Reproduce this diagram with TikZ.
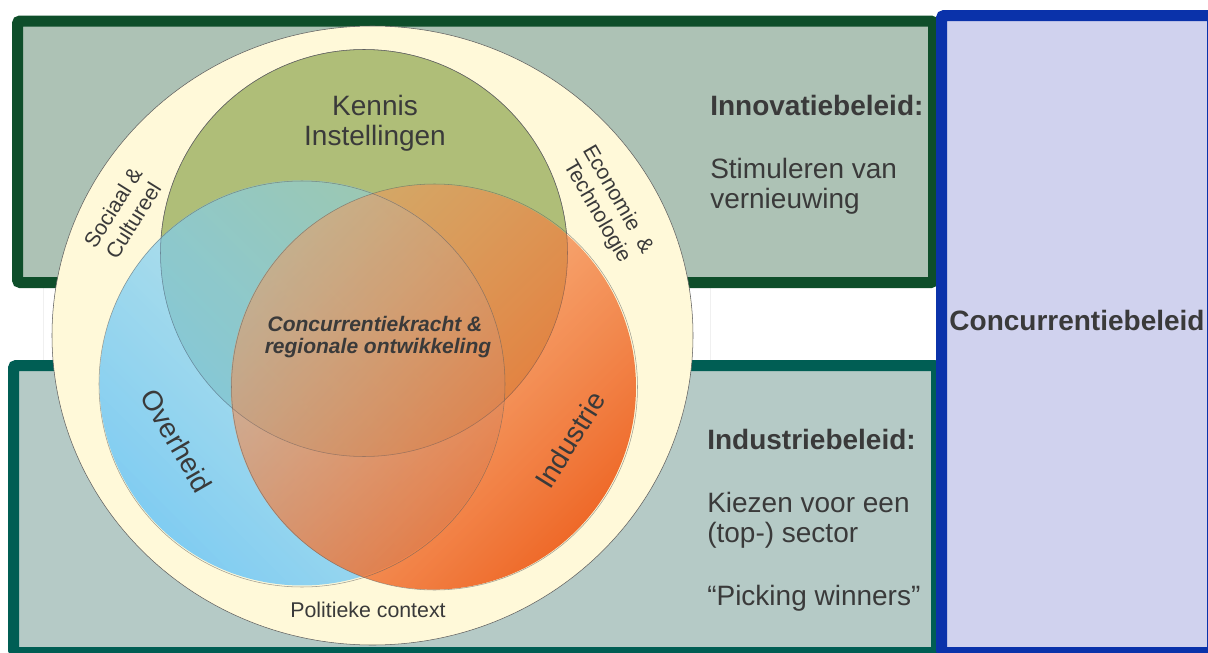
\documentclass[tikz,border=0pt]{standalone}
\usepackage{fontspec}
\setmainfont{Liberation Sans}
\usepackage{xcolor}
\usetikzlibrary{fadings}
\definecolor{innoline}{RGB}{14,78,42}
\definecolor{innofill}{RGB}{173,194,181}
\definecolor{induline}{RGB}{0,94,84}
\definecolor{indufill}{RGB}{181,202,198}
\definecolor{concline}{RGB}{10,50,170}
\definecolor{concfill}{RGB}{208,210,238}
\definecolor{cream}{RGB}{255,249,217}
\definecolor{kennisgreen}{RGB}{175,190,120}
\definecolor{ovdeep}{RGB}{115,200,245}
\definecolor{ovlight}{RGB}{135,212,246}
\definecolor{indlight}{RGB}{246,150,90}
\definecolor{inddeep}{RGB}{238,98,32}
\definecolor{txtgray}{RGB}{58,58,58}
\definecolor{ringline}{RGB}{95,95,95}
\tikzfading[name=ovfade, left color=transparent!55, right color=transparent!10]
\tikzfading[name=indfade, left color=transparent!50, right color=transparent!5]

\begin{document}
\begin{tikzpicture}[x=0.75pt,y=0.75pt,yscale=-1,xscale=1,
  frame/.style={line width=8.25pt, rounded corners=2pt},
  ring/.style={draw=ringline, line width=0.4pt},
  head/.style={text=txtgray, inner sep=0pt, font=\fontsize{21}{22.5}\selectfont\bfseries},
  body/.style={text=txtgray, inner sep=0pt, font=\fontsize{21}{22.5}\selectfont},
  core/.style={text=txtgray, inner sep=0pt, font=\fontsize{15.75}{17}\selectfont\bfseries\itshape},
  small/.style={text=txtgray, inner sep=0pt, align=center, font=\fontsize{16}{18}\selectfont}]

\useasboundingbox (0,0) rectangle (1208,653);

\draw [draw=black!6, fill=white] (43,285) rectangle (710,362);

\draw [frame, draw=innoline, fill=innofill] (17.5,21) rectangle (933.5,282.5);
\draw [frame, draw=induline, fill=indufill] (13.5,365.5) rectangle (936.5,652.5);
\draw [frame, draw=concline, fill=concfill] (941.5,15.5) rectangle (1212.5,652.5);

\draw [ring, fill=cream] (372.5,335.5) ellipse (320.5 and 309.5);
\draw [ring, fill=kennisgreen] (364,253) circle (203.5);
\shade [left color=ovdeep, right color=ovlight, shading angle=135, path fading=ovfade, fading angle=-135] (302,384) circle (203);
\shade [left color=indlight, right color=inddeep, shading angle=45, path fading=indfade, fading angle=-45] (434.5,387) circle (203);
\draw [ring, draw opacity=0.45] (364,253) circle (203.5);
\draw [ring, draw opacity=0.6] (302,384) circle (203);
\draw [ring, draw opacity=0.6] (434.5,387) circle (203);

\node (kennisA) [body, anchor=base] at (375,115) {Kennis};
\node (kennisB) [body, anchor=base] at (375,145) {Instellingen};
\node (sociaal) [small, rotate=58] at (123,214) {Sociaal \&\\Cultureel};
\node (economie) [small, rotate=-60] at (607,206) {Economie~~\&\\Technologie};
\node (kernA) [core, anchor=base] at (375,331) {Concurrentiekracht \&};
\node (kernB) [core, anchor=base] at (378,353) {regionale ontwikkeling};
\node (overheid) [body, rotate=-60] at (177,441) {Overheid};
\node (industrie) [body, rotate=58] at (570,440) {Industrie};
\node (politiek) [small, anchor=base] at (368,617) {Politieke context};

\node (innohead) [head, anchor=base west] at (710,115) {Innovatiebeleid:};
\node (innotxtA) [body, anchor=base west] at (710,178) {Stimuleren van};
\node (innotxtB) [body, anchor=base west] at (710,208) {vernieuwing};
\node (induhead) [head, anchor=base west] at (707,449) {Industriebeleid:};
\node (indutxtA) [body, anchor=base west] at (707,512) {Kiezen voor een};
\node (indutxtB) [body, anchor=base west] at (707,542) {(top-) sector};
\node (indutxtC) [body, anchor=base west] at (707,605) {``Picking winners''};
\node (conchead) [head, anchor=base] at (1077,330) {Concurrentiebeleid};

\end{tikzpicture}
\end{document}
